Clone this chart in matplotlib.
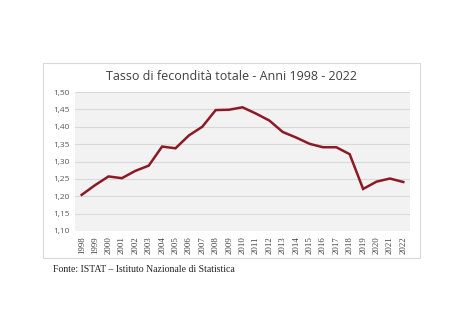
import numpy as np
import matplotlib
matplotlib.use("Agg")
from matplotlib import pyplot as plt
from matplotlib.patches import Rectangle

years = list(range(1998, 2023))
tasso = [1.204, 1.232, 1.257, 1.252, 1.273, 1.288, 1.343, 1.338, 1.375, 1.400,
         1.448, 1.449, 1.456, 1.438, 1.418, 1.385, 1.369, 1.351, 1.341, 1.341,
         1.321, 1.221, 1.242, 1.251, 1.241]
y_ticks = [1.10, 1.15, 1.20, 1.25, 1.30, 1.35, 1.40, 1.45, 1.50]

W, H = 474, 333
fig = plt.figure(figsize=(W / 100, H / 100), dpi=100)
fig.patch.set_facecolor("white")

# chart frame
fig.patches.append(Rectangle((43 / W, 1 - 258 / H), (420 - 43) / W, (258 - 63) / H,
                             transform=fig.transFigure, fill=False,
                             edgecolor="#d9d9d9", linewidth=0.8))

ax = fig.add_axes([75 / W, 1 - 231 / H, (410 - 75) / W, (231 - 92) / H])
ax.set_facecolor("#f2f2f2")
for s in ax.spines.values():
    s.set_visible(False)

ax.plot(years, tasso, color="#8b1a24", linewidth=1.8, solid_joinstyle="miter")

ax.set_ylim(1.10, 1.50)
ax.set_xlim(1997.5, 2022.5)
ax.set_yticks(y_ticks)
ax.set_yticklabels([f"{v:.2f}".replace(".", ",") for v in y_ticks],
                   fontsize=6, color="#595959", family="Open Sans")
ax.set_xticks(years)
ax.set_xticklabels([str(y) for y in years], rotation=90, fontsize=6.3,
                   color="#404040", family="Liberation Serif")
ax.tick_params(length=0, pad=4)
ax.grid(axis="y", color="#d9d9d9", linewidth=0.8)
ax.set_axisbelow(True)

fig.text(231 / W, 1 - 77 / H, "Tasso di fecondità totale - Anni 1998 - 2022",
         ha="center", va="center", fontsize=9, color="#404040", family="Open Sans")
fig.text(53 / W, 1 - 270 / H, "Fonte: ISTAT – Istituto Nazionale di Statistica",
         ha="left", va="center", fontsize=7, color="#222222", family="Liberation Serif")

fig.savefig("out.png", dpi=100)
